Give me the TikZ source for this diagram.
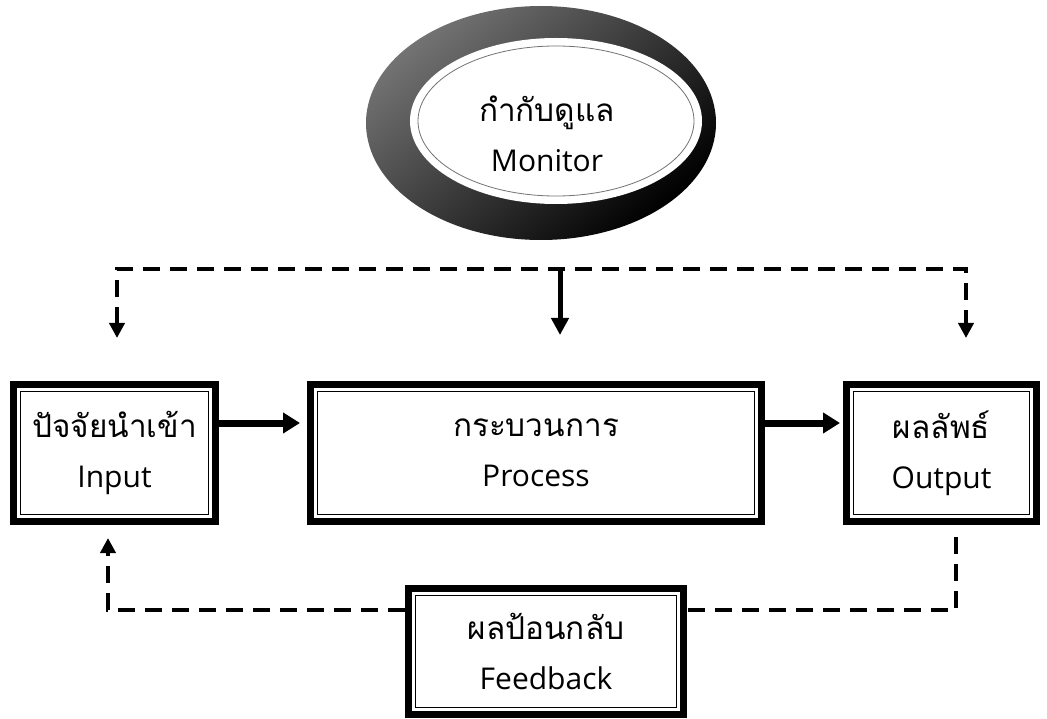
\documentclass[tikz,border=0pt]{standalone}
\usepackage{fontspec}
\setmainfont{Open Sans}
\newfontfamily\thai[Script=Thai,Scale=1.05]{Loma}
\usetikzlibrary{arrows.meta,shapes.geometric}
\begin{document}
\begin{tikzpicture}[x=1pt,y=-1pt,
  txt/.style={font=\fontsize{30}{50}\selectfont,align=center},
  box/.style={draw,line width=7pt,minimum width=#1,minimum height=137pt,inner sep=0pt,txt,
    path picture={\draw[line width=1.6pt] ([xshift=7pt,yshift=7pt]path picture bounding box.south west) rectangle ([xshift=-7pt,yshift=-7pt]path picture bounding box.north east);}},
  dashline/.style={line width=4pt,dash pattern=on 17pt off 10pt},
  dtip/.style={-{Triangle[length=15pt,width=15pt]}},
  flow/.style={line width=7pt,-{Triangle[length=17pt,width=20pt]}},
  main/.style={line width=5pt,-{Triangle[length=17pt,width=17pt]}}
]
\useasboundingbox (0,0) rectangle (1047,719);
% monitor
\node[ellipse,minimum width=350pt,minimum height=234pt,inner sep=0pt,
  top color=black!55,middle color=black,bottom color=black,shading angle=40] (ring) at (541,123) {};
\node[ellipse,fill=white,minimum width=292pt,minimum height=166pt,inner sep=0pt,
  path picture={\draw[black!55,line width=0.8pt] (path picture bounding box.center) ellipse (138pt and 75pt);}] (monitor) at (556,121) {};
\node[txt,inner sep=0pt] (monitortext) at (547,134) {{\thai กำกับดูแล}\\Monitor};
% boxes
\node[box=202pt] (input) at (114.5,453) {{\thai ปัจจัยนำเข้า}\\Input};
\node[box=451pt] (process) at (536,453) {{\thai กระบวนการ}\\Process};
\node[box=190pt] (output) at (941.5,453) {{\thai ผลลัพธ์}\\Output};
\node[box=275pt,minimum height=126pt] (feedback) at (546,651.5) {{\thai ผลป้อนกลับ}\\Feedback};
% top bus
\coordinate (tl) at (117,338);
\coordinate (tr) at (966,338);
\coordinate (bus) at (560,269);
\draw[dashline,{Triangle[length=15pt,width=15pt]}-{Triangle[length=15pt,width=15pt]}] (tl) |- (bus) -| (tr);
\draw[main,shorten >=46pt] (bus) -- (bus |- process.north);
% flow arrows
\draw[flow,shorten >=7pt] ([yshift=30pt]input.east) -- ([yshift=30pt]process.west);
\draw[flow,shorten >=3pt] ([yshift=30pt]process.east) -- ([yshift=30pt]output.west);
% feedback loop
\coordinate (ob) at (956,537);
\coordinate (ib) at (108,538);
\draw[dashline] (ob) |- ([yshift=41.5pt]feedback.east);
\draw[dashline,dtip] ([yshift=41.5pt]feedback.west) -| (ib);
\end{tikzpicture}
\end{document}
